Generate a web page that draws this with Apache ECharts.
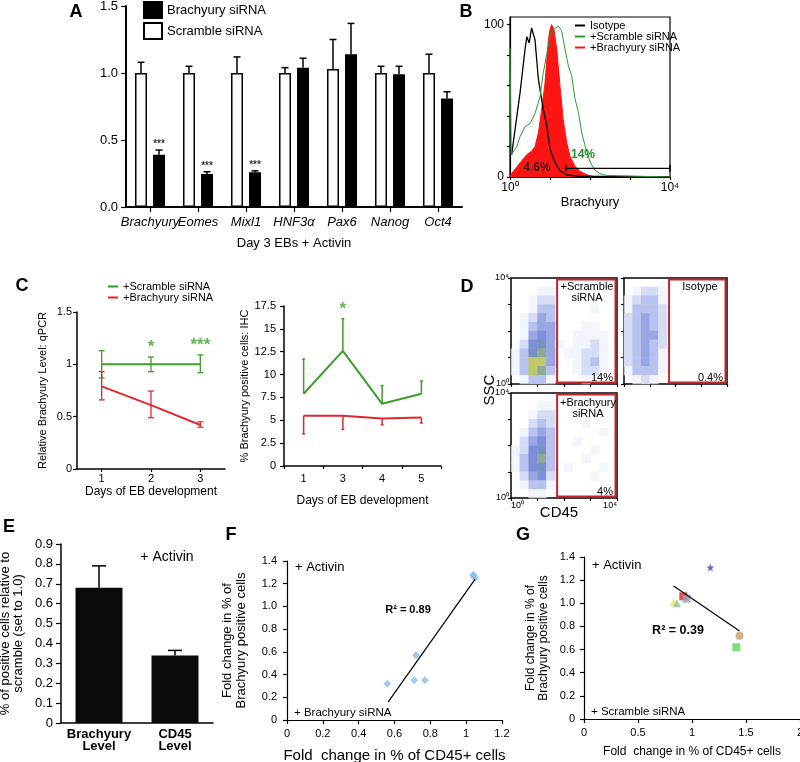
<!DOCTYPE html>
<html><head><meta charset="utf-8">
<script src="https://cdn.jsdelivr.net/npm/echarts@6/dist/echarts.min.js"></script>
<style>html,body{margin:0;padding:0;background:#fff}#c{width:800px;height:762px}</style>
</head><body><div id="c"></div>
<script>
// ---------- Panel A ----------
const genes = ['Brachyury','Eomes','Mixl1','HNF3α','Pax6','Nanog','Oct4'];
const scrambleA = [1.0,1.0,1.0,1.0,1.03,1.0,1.0];
const scrambleAErr = [1.08,1.05,1.12,1.04,1.25,1.05,1.14];
const brachyA = [0.39,0.246,0.26,1.04,1.14,0.99,0.81];
const brachyAErr = [0.425,0.263,0.27,1.11,1.37,1.05,0.86];
const starsA = ['***','***','***','','','',''];
// ---------- Panel B (x in decades of Brachyury, y % of max) ----------
const histIso = [[0.04,14.5],[0.25,55],[0.375,83.5],[0.42,92],[0.48,88],[0.54,97.8],[0.58,99],[0.625,90],[0.71,64],[0.83,44.7],[0.92,33.8],[1.0,18.4],[1.125,9.6],[1.25,4.1],[1.42,1.3],[1.75,0.5],[4,0]];
const histScr = [[0,84.6],[0.03,14.5],[0.17,20],[0.25,26.5],[0.375,33],[0.5,35],[0.625,41.7],[0.75,52.6],[0.83,68],[0.92,81],[1.0,92],[1.08,96.7],[1.21,99],[1.29,96],[1.375,84],[1.46,73],[1.54,66.6],[1.625,51.3],[1.71,42.5],[1.79,29.4],[1.875,20.6],[2.0,9.9],[2.125,4.4],[2.25,2.2],[2.42,1],[4,0]];
const histBr = [[0,0.5],[0.083,3.7],[0.25,9.2],[0.42,14.7],[0.54,16.9],[0.625,20],[0.71,28.9],[0.79,44],[0.875,61.6],[0.92,77],[0.96,90],[1.0,96.7],[1.04,100],[1.1,96.7],[1.17,83.6],[1.25,59.6],[1.33,37.7],[1.42,22.4],[1.5,13.6],[1.625,7],[1.75,3.7],[1.92,1.5],[2.08,0.4],[4,0]];
const gateB = [[1.4,5.7],[4,5.7]];
// ---------- Panel C ----------
const daysC1 = ['1','2','3'];
const scrambleC1 = [1.0,1.0,1.0];
const scrambleC1Lo = [0.87,0.93,0.92];
const scrambleC1Hi = [1.13,1.07,1.09];
const brachyC1 = [0.79,0.61,0.42];
const brachyC1Lo = [0.66,0.49,0.40];
const brachyC1Hi = [0.93,0.745,0.45];
const starsC1 = ['','*','***'];
const daysC2 = ['1','3','4','5'];
const scrambleC2 = [7.9,12.6,6.8,7.9];
const scrambleC2Hi = [11.7,16.1,8.8,9.3];
const brachyC2 = [5.5,5.5,5.2,5.3];
const brachyC2Lo = [3.5,4.0,4.5,4.7];
const starsC2 = ['','*','',''];
// ---------- Panel D (density grids, 12x12, top row first) ----------
const densScramble = [
 [0,0,0,0,0,0,0,0,0,0,0,0],
 [0,0,0,1,1,0,0,0,0,0,0,0],
 [0,0,1,2,2,0,0,0,0,0,0,0],
 [0,0,1,3,3,0,0,0,0,1,0,0],
 [0,1,2,4,3,0,0,0,0,0,0,0],
 [0,1,3,4,4,0,0,0,1,1,0,0],
 [0,1,4,5,4,0,0,1,1,1,1,0],
 [0,2,5,6,4,1,0,1,1,2,1,0],
 [1,3,6,7,4,0,1,1,2,2,1,0],
 [1,3,8,8,4,0,0,1,2,3,1,0],
 [1,3,8,7,3,0,0,1,2,2,1,0],
 [0,1,3,3,1,0,0,0,1,0,0,0]];
const densIsotype = [
 [0,0,0,0,0,0,0,0,0,0,0,0],
 [0,1,2,2,1,0,0,0,0,0,0,0],
 [1,2,3,3,1,0,0,0,0,0,0,0],
 [1,3,3,3,2,0,0,0,0,0,0,0],
 [2,3,4,3,2,0,0,0,0,0,0,0],
 [2,3,4,3,2,0,0,0,0,0,0,0],
 [2,3,4,4,2,0,0,0,0,0,0,0],
 [2,3,4,3,2,0,0,0,0,0,0,0],
 [2,3,4,3,1,0,0,0,0,0,0,0],
 [2,3,4,3,1,0,0,0,0,0,0,0],
 [1,3,3,3,1,0,0,0,0,0,0,0],
 [0,1,2,1,0,0,0,0,0,0,0,0]];
const densBrachy = [
 [0,0,0,0,0,0,0,0,0,0,0,0],
 [0,0,0,1,1,0,0,0,0,0,0,0],
 [0,0,1,2,2,0,0,0,0,0,0,0],
 [0,0,2,3,2,0,0,0,1,0,0,0],
 [0,1,3,4,3,0,0,0,0,0,1,0],
 [0,2,4,5,3,0,0,1,0,0,0,0],
 [1,2,5,6,3,0,0,0,0,1,0,0],
 [1,3,5,7,3,0,0,0,1,0,0,0],
 [1,3,5,6,3,0,1,0,0,0,1,0],
 [0,2,4,5,2,0,0,0,0,1,0,0],
 [0,1,3,3,1,0,0,0,0,0,0,0],
 [0,0,1,1,0,0,0,0,0,0,0,0]];
const gateStart = [1.74,1.75,1.74];
// ---------- Panel E ----------
const eCats = ['Brachyury\nLevel','CD45\nLevel'];
const eVals = [0.68,0.34];
const eErr = [0.79,0.365];
// ---------- Panel F ----------
const fPoints = [[0.56,0.32],[0.71,0.35],[0.72,0.57],[0.77,0.35],[1.04,1.28],[1.05,1.25],[1.04,1.27]];
const fFit = [[0.565,0.16],[1.05,1.24]];
// ---------- Panel G ----------
const gPoints = [[1.17,1.31],[0.92,1.06],[0.95,1.04],[0.83,1.01],[0.86,1.0],[1.44,0.72],[1.41,0.62]];
const gFit = [[0.83,1.15],[1.44,0.76]];

const FF = 'Liberation Sans, Arial, Helvetica, sans-serif';
const STAR = 'path://M0,-10 L2.4,-3.3 L9.5,-3.1 L3.9,1.3 L5.9,8.1 L0,4.1 L-5.9,8.1 L-3.9,1.3 L-9.5,-3.1 L-2.4,-3.3 Z';
const gColors = ['#3c46d6','#e02020','#9aa0b4','#e6e85a','#8fc48f','#c99a6c','#5fd35f'];
const gSymbols = [STAR,'rect','rect','triangle','triangle','circle','rect'];

function merge(a,b){const o=Object.assign({},a);for(const k in b){if(b[k]&&typeof b[k]==='object'&&!Array.isArray(b[k])&&a[k]&&typeof a[k]==='object'){o[k]=merge(a[k],b[k]);}else o[k]=b[k];}return o;}
const base = {
  axisLine:{show:true,lineStyle:{color:'#000',width:1.5}},
  axisTick:{show:true,length:4,lineStyle:{color:'#000',width:1.2}},
  axisLabel:{color:'#000',fontSize:11,fontFamily:FF},
  splitLine:{show:false},
  nameTextStyle:{color:'#000',fontFamily:FF},
  nameMoveOverlap:false
};
const AX = o => merge(base,o);
const dec1 = v => v===0?'0':v.toFixed(1);

function errSeries(xi, yi, data, offset, cap, color, lw, both){
  return {type:'custom', xAxisIndex:xi, yAxisIndex:yi, silent:true, z:5, data,
    renderItem:(p,api)=>{
      const x=api.value(0);
      const a=api.coord([x,api.value(1)]), b=api.coord([x,api.value(2)]);
      const cx=a[0]+offset;
      const st={stroke:color,lineWidth:lw};
      const ch=[{type:'line',shape:{x1:cx,y1:a[1],x2:cx,y2:b[1]},style:st},
                {type:'line',shape:{x1:cx-cap,y1:b[1],x2:cx+cap,y2:b[1]},style:st}];
      if(both) ch.push({type:'line',shape:{x1:cx-cap,y1:a[1],x2:cx+cap,y2:a[1]},style:st});
      return {type:'group',children:ch};
    }};
}
function starSeries(xi, yi, tops, labels, offX, color, size){
  return {type:'scatter', xAxisIndex:xi, yAxisIndex:yi, symbolSize:0, silent:true, z:6,
    data: tops.map((t,i)=>({value:[i,t], label:{show:labels[i]!=='', formatter:labels[i]}})),
    label:{position:'top', distance:1, offset:[offX,0], color, fontSize:size, fontWeight:'bold', fontFamily:FF}};
}
function heat(rows){const out=[];rows.forEach((r,ri)=>r.forEach((v,ci)=>out.push([ci,rows.length-1-ri,v])));return out;}
const cells = Array.from({length:12},(_,i)=>String(i));

const grids = [
  {left:126,top:6,width:336,height:201},
  {left:510,top:17,width:160,height:160,show:true,borderColor:'#000',borderWidth:1.2},
  {left:77,top:312,width:148,height:157},
  {left:284,top:306,width:157,height:160},
  {left:511,top:278,width:106,height:106,show:true,borderColor:'#000',borderWidth:1.5},
  {left:624,top:278,width:103,height:106,show:true,borderColor:'#000',borderWidth:1.5},
  {left:511,top:393,width:106,height:105,show:true,borderColor:'#000',borderWidth:1.5},
  {left:61,top:544,width:152,height:179},
  {left:287,top:561,width:215,height:159},
  {left:584,top:557,width:216,height:162}
].map(g=>Object.assign({outerBoundsMode:'none',containLabel:false},g));

const logLbl = v => v===0?'10⁰':(v===4?'10⁴':'');
const xAxis = [
  AX({type:'category',gridIndex:0,data:genes,axisLine:{lineStyle:{width:2}},axisTick:{alignWithLabel:true,length:5,interval:0},
      axisLabel:{fontStyle:'italic',fontSize:13,margin:9,interval:0},
      name:'Day 3 EBs + Activin',nameLocation:'middle',nameGap:30,nameTextStyle:{fontSize:13}}),
  AX({type:'value',gridIndex:1,min:0,max:4,interval:1,axisLine:{lineStyle:{width:1.2}},axisTick:{length:3},
      axisLabel:{formatter:logLbl,fontSize:12,margin:5},
      name:'Brachyury',nameLocation:'middle',nameGap:19,nameTextStyle:{fontSize:13}}),
  AX({type:'category',gridIndex:2,data:daysC1,axisTick:{alignWithLabel:true,length:3},axisLabel:{margin:4},
      name:'Days of EB development',nameLocation:'middle',nameGap:17,nameTextStyle:{fontSize:12}}),
  AX({type:'category',gridIndex:3,data:daysC2,axisTick:{length:3},axisLabel:{margin:7},
      name:'Days of EB development',nameLocation:'middle',nameGap:29,nameTextStyle:{fontSize:12}}),
  {type:'category',gridIndex:4,data:cells,show:false,position:'top'},
  {type:'category',gridIndex:5,data:cells,show:false,position:'top'},
  {type:'category',gridIndex:6,data:cells,show:false,position:'top'},
  AX({type:'value',gridIndex:4,position:'bottom',min:0,max:4,interval:1,axisLine:{show:false},axisTick:{length:3},axisLabel:{show:false}}),
  AX({type:'value',gridIndex:5,position:'bottom',min:0,max:4,interval:1,axisLine:{show:false},axisTick:{length:3},axisLabel:{show:false}}),
  AX({type:'value',gridIndex:6,position:'bottom',min:0,max:4,interval:1,axisLine:{show:false},axisTick:{length:3},
      axisLabel:{formatter:logLbl,fontSize:9,margin:3,alignMinLabel:'left',alignMaxLabel:'right'}}),
  AX({type:'category',gridIndex:7,data:eCats,axisTick:{show:false},axisLabel:{fontSize:13,fontWeight:'bold',lineHeight:12,margin:5,interval:0}}),
  AX({type:'value',gridIndex:8,min:0,max:1.2,interval:0.2,axisLine:{lineStyle:{width:1.2}},axisLabel:{margin:8},
      name:'Fold  change in % of CD45+ cells',nameLocation:'middle',nameGap:28,nameTextStyle:{fontSize:15}}),
  AX({type:'value',gridIndex:9,min:0,max:2,interval:0.5,axisLine:{lineStyle:{width:1.2}},axisLabel:{margin:8},
      name:'Fold  change in % of CD45+ cells',nameLocation:'middle',nameGap:27,nameTextStyle:{fontSize:12}})
];
const yAxis = [
  AX({type:'value',gridIndex:0,min:0,max:1.5,interval:0.5,axisLine:{lineStyle:{width:2}},axisTick:{length:5},
      axisLabel:{formatter:v=>v.toFixed(1),fontSize:13,margin:8}}),
  AX({type:'value',gridIndex:1,min:0,max:105,interval:20,axisLine:{lineStyle:{width:1.2}},axisTick:{length:3},
      axisLabel:{formatter:v=>(v===0||v===100)?String(v):'',fontSize:12,margin:6,showMaxLabel:false}}),
  AX({type:'value',gridIndex:2,min:0,max:1.5,interval:0.5,axisLabel:{margin:5},
      name:'Relative Brachyury Level: qPCR',nameLocation:'middle',nameGap:29,nameTextStyle:{fontSize:11}}),
  AX({type:'value',gridIndex:3,min:0,max:17.5,interval:2.5,axisLabel:{margin:8},
      name:'% Brachyury positive cells: IHC',nameLocation:'middle',nameGap:34,nameTextStyle:{fontSize:11}}),
  {type:'category',gridIndex:4,data:cells,show:false,position:'right'},
  {type:'category',gridIndex:5,data:cells,show:false,position:'right'},
  {type:'category',gridIndex:6,data:cells,show:false,position:'right'},
  AX({type:'value',gridIndex:4,position:'left',min:0,max:4,interval:1,axisLine:{show:false},axisTick:{length:3},axisLabel:{formatter:logLbl,fontSize:9,margin:2}}),
  AX({type:'value',gridIndex:5,position:'left',min:0,max:4,interval:1,axisLine:{show:false},axisTick:{length:3},axisLabel:{show:false}}),
  AX({type:'value',gridIndex:6,position:'left',min:0,max:4,interval:1,axisLine:{show:false},axisTick:{length:3},axisLabel:{formatter:logLbl,fontSize:9,margin:2}}),
  AX({type:'value',gridIndex:7,min:0,max:0.9,interval:0.1,axisTick:{length:5},axisLabel:{formatter:dec1,fontSize:13,margin:8},
      name:'% of positive cells relative to\nscramble (set to 1.0)',nameLocation:'middle',nameGap:36,nameTextStyle:{fontSize:13,lineHeight:13}}),
  AX({type:'value',gridIndex:8,min:0,max:1.4,interval:0.2,axisLine:{lineStyle:{width:1.2}},axisLabel:{formatter:dec1,margin:10},
      name:'Fold change in % of\nBrachyury positive cells',nameLocation:'middle',nameGap:39,nameTextStyle:{fontSize:13,lineHeight:14}}),
  AX({type:'value',gridIndex:9,min:0,max:1.4,interval:0.2,axisLine:{lineStyle:{width:1.2}},axisLabel:{formatter:dec1,margin:9},
      name:'Fold change in % of\nBrachyury positive cells',nameLocation:'middle',nameGap:34,nameTextStyle:{fontSize:12,lineHeight:13}})
];

const GREEN_B='#2e9a2e', RED_B='#ff1414', GREEN_C='#3d9e2c', RED_C='#dc2a2e';
const series = [
  // A
  {type:'bar',name:'Scramble siRNA',xAxisIndex:0,yAxisIndex:0,data:scrambleA,barWidth:12,barGap:'50%',
   itemStyle:{color:'#fff',borderColor:'#000',borderWidth:1.5}},
  {type:'bar',name:'Brachyury siRNA',xAxisIndex:0,yAxisIndex:0,data:brachyA,barWidth:12,barGap:'50%',
   itemStyle:{color:'#000',borderColor:'#000',borderWidth:1.5}},
  errSeries(0,0,genes.map((g,i)=>[i,scrambleA[i],scrambleAErr[i]]),-9,3.5,'#000',1.5,false),
  errSeries(0,0,genes.map((g,i)=>[i,brachyA[i],brachyAErr[i]]),9,3.5,'#000',1.5,false),
  starSeries(0,0,brachyAErr,starsA,9,'#000',10),
  // B
  {type:'line',name:'+Brachyury siRNA',xAxisIndex:1,yAxisIndex:1,data:histBr,symbol:'none',color:RED_B,
   lineStyle:{color:RED_B,width:1},areaStyle:{color:RED_B,opacity:1}},
  {type:'line',name:'Isotype',xAxisIndex:1,yAxisIndex:1,data:histIso,symbol:'none',color:'#000',lineStyle:{color:'#000',width:1.3}},
  {type:'line',name:'+Scramble siRNA',xAxisIndex:1,yAxisIndex:1,data:histScr,symbol:'none',color:GREEN_B,lineStyle:{color:GREEN_B,width:1}},
  {type:'line',xAxisIndex:1,yAxisIndex:1,data:gateB,symbol:'rect',symbolSize:[1.5,7],color:'#000',lineStyle:{color:'#000',width:1.2},silent:true,z:8},
  // C left
  {type:'line',name:'+Scramble siRNA',xAxisIndex:2,yAxisIndex:2,data:scrambleC1,symbol:'none',color:GREEN_C,lineStyle:{color:GREEN_C,width:2}},
  {type:'line',name:'+Brachyury siRNA',xAxisIndex:2,yAxisIndex:2,data:brachyC1,symbol:'none',color:RED_C,lineStyle:{color:RED_C,width:2}},
  errSeries(2,2,daysC1.map((d,i)=>[i,scrambleC1Lo[i],scrambleC1Hi[i]]),0,3,GREEN_C,1.3,true),
  errSeries(2,2,daysC1.map((d,i)=>[i,brachyC1Lo[i],brachyC1Hi[i]]),0,3,RED_C,1.3,true),
  starSeries(2,2,scrambleC1Hi,starsC1,0,GREEN_C,17),
  // C right
  {type:'line',xAxisIndex:3,yAxisIndex:3,data:scrambleC2,symbol:'none',color:GREEN_C,lineStyle:{color:GREEN_C,width:2}},
  {type:'line',xAxisIndex:3,yAxisIndex:3,data:brachyC2,symbol:'none',color:RED_C,lineStyle:{color:RED_C,width:2}},
  errSeries(3,3,daysC2.map((d,i)=>[i,scrambleC2[i],scrambleC2Hi[i]]),0,1.5,GREEN_C,1.5,false),
  errSeries(3,3,daysC2.map((d,i)=>[i,brachyC2[i],brachyC2Lo[i]]),0,1.5,RED_C,1.5,false),
  starSeries(3,3,scrambleC2Hi,starsC2,0,GREEN_C,17),
  // D
  {type:'heatmap',xAxisIndex:4,yAxisIndex:4,data:heat(densScramble),silent:true},
  {type:'heatmap',xAxisIndex:5,yAxisIndex:5,data:heat(densIsotype),silent:true},
  {type:'heatmap',xAxisIndex:6,yAxisIndex:6,data:heat(densBrachy),silent:true}
];
[7,8,9].forEach((ax,k)=>series.push({type:'custom',xAxisIndex:ax,yAxisIndex:ax,silent:true,z:4,
  data:[[gateStart[k],0,4,4]],
  renderItem:(p,api)=>{const a=api.coord([api.value(0),api.value(3)]),b=api.coord([api.value(2),api.value(1)]);
    return {type:'rect',shape:{x:a[0],y:a[1]+1.5,width:b[0]-a[0]-1.5,height:b[1]-a[1]-3},style:{fill:'none',stroke:'#c0262c',lineWidth:2}};}}));
series.push(
  // E
  {type:'bar',xAxisIndex:10,yAxisIndex:10,data:eVals,barWidth:47,itemStyle:{color:'#0a0a0a'}},
  errSeries(10,10,eCats.map((c,i)=>[i,eVals[i],eErr[i]]),0,7,'#000',1.5,false),
  // F
  {type:'scatter',xAxisIndex:11,yAxisIndex:11,data:fPoints,symbol:'diamond',symbolSize:8,itemStyle:{color:'#8fbbe3'}},
  {type:'line',xAxisIndex:11,yAxisIndex:11,data:fFit,symbol:'none',lineStyle:{color:'#000',width:1.2},color:'#000'},
  // G
  {type:'scatter',xAxisIndex:12,yAxisIndex:12,symbolSize:8,
   data:gPoints.map((p,i)=>({value:p,symbol:gSymbols[i],itemStyle:{color:gColors[i]}}))},
  {type:'line',xAxisIndex:12,yAxisIndex:12,data:gFit,symbol:'none',lineStyle:{color:'#000',width:1.2},color:'#000'}
);
const heatIdx = series.map((s,i)=>s.type==='heatmap'?i:-1).filter(i=>i>=0);

function T(x,y,text,o){return {type:'text',x,y,z:100,silent:true,style:Object.assign({text,fill:'#000',fontSize:13,fontFamily:FF,align:'left',verticalAlign:'middle'},o||{})};}
const graphic = [
  T(76,12,'A',{fontSize:18,fontWeight:'bold',align:'center'}),
  T(466,12,'B',{fontSize:18,fontWeight:'bold',align:'center'}),
  T(22,286,'C',{fontSize:18,fontWeight:'bold',align:'center'}),
  T(467,287,'D',{fontSize:18,fontWeight:'bold',align:'center'}),
  T(9,527,'E',{fontSize:18,fontWeight:'bold',align:'center'}),
  T(231,535,'F',{fontSize:18,fontWeight:'bold',align:'center'}),
  T(523,535,'G',{fontSize:18,fontWeight:'bold',align:'center'}),
  T(583,155,'14%',{fontSize:12,fontWeight:'bold',fill:'#2e8a2e',align:'center'}),
  T(537,168,'4.6%',{fontSize:12,fontWeight:'bold',fill:'#3a1a1a',align:'center'}),
  T(587,292,'+Scramble\nsiRNA',{fontSize:11,lineHeight:11,align:'center'}),
  T(613,378,'14%',{fontSize:11,align:'right'}),
  T(700,287,'Isotype',{fontSize:11,align:'center'}),
  T(723,378,'0.4%',{fontSize:11,align:'right'}),
  T(588,408,'+Brachyury\nsiRNA',{fontSize:11,lineHeight:11,align:'center'}),
  T(613,492,'4%',{fontSize:11,align:'right'}),
  {type:'text',x:490,y:390,rotation:Math.PI/2,z:100,silent:true,style:{text:'SSC',fill:'#000',fontSize:15,fontFamily:FF,align:'center',verticalAlign:'middle'}},
  T(559,513,'CD45',{fontSize:15,align:'center'}),
  T(167,557,'+ Activin',{fontSize:14,align:'center'}),
  T(295,567,'+ Activin',{fontSize:13}),
  T(408,610,'R² = 0.89',{fontSize:11,fontWeight:'bold',align:'center'}),
  T(294,713,'+ Brachyury siRNA',{fontSize:11.5}),
  T(592,565,'+ Activin',{fontSize:13}),
  T(678,631,'R² = 0.39',{fontSize:12.5,fontWeight:'bold',align:'center'}),
  T(591,712,'+ Scramble siRNA',{fontSize:11.5})
];

const option = {
  animation:false,
  backgroundColor:'#fff',
  textStyle:{fontFamily:FF,color:'#000'},
  grid:grids, xAxis, yAxis,
  legend:[
    {data:['Brachyury siRNA','Scramble siRNA'],left:143,top:1,orient:'vertical',icon:'rect',itemWidth:18,itemHeight:16,itemGap:3,padding:0,
     textStyle:{fontSize:13,color:'#000',fontFamily:FF},selectedMode:false},
    {data:['Isotype','+Scramble siRNA','+Brachyury siRNA'],left:575,top:20,orient:'vertical',icon:'rect',itemWidth:10,itemHeight:2,itemGap:0,padding:0,
     textStyle:{fontSize:11,color:'#000',fontFamily:FF},selectedMode:false},
    {data:['+Scramble siRNA','+Brachyury siRNA'],left:108,top:281,orient:'vertical',icon:'rect',itemWidth:10,itemHeight:2,itemGap:0,padding:0,
     textStyle:{fontSize:11,color:'#000',fontFamily:FF},selectedMode:false}
  ],
  visualMap:[{type:'continuous',show:false,seriesIndex:heatIdx,min:0,max:8,
    inRange:{color:['rgba(255,255,255,0)','#e9ecfa','#c3cbf1','#98a6e3','#7487d8','#7d9fa8','#bcc86a']}}],
  series, graphic
};
const chart = echarts.init(document.getElementById('c'),null,{renderer:'canvas'});
chart.setOption(option);
</script></body></html>
